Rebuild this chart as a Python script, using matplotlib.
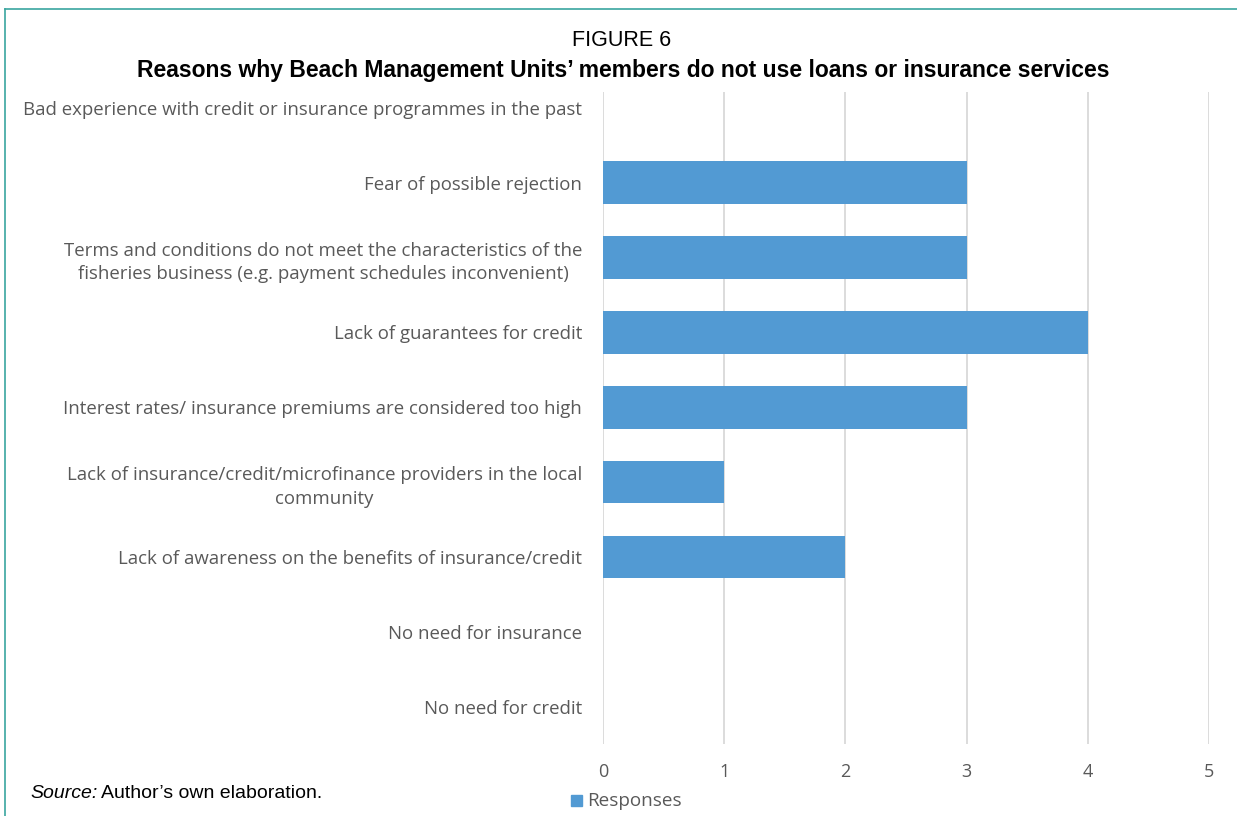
import matplotlib
matplotlib.use("Agg")
from matplotlib import pyplot as plt
from matplotlib.lines import Line2D
from matplotlib.patches import Rectangle

# data
reasons = [
    "Bad experience with credit or insurance programmes in the past",
    "Fear of possible rejection",
    "Terms and conditions do not meet the characteristics of the\nfisheries business (e.g. payment schedules inconvenient)",
    "Lack of guarantees for credit",
    "Interest rates/ insurance premiums are considered too high",
    "Lack of insurance/credit/microfinance providers in the local\ncommunity",
    "Lack of awareness on the benefits of insurance/credit",
    "No need for insurance",
    "No need for credit",
]
responses = [0, 3, 3, 4, 3, 1, 2, 0, 0]
xticks = [0, 1, 2, 3, 4, 5]

W, H = 1237, 816
bar_color = "#529AD3"
grid_color = "#D9D9D9"
label_color = "#595959"
label_font = ["Open Sans", "DejaVu Sans"]

fig = plt.figure(figsize=(W / 100, H / 100), dpi=100)
ax = fig.add_axes([603 / W, (H - 744) / H, (1209 - 603) / W, (744 - 92) / H])

pos = list(range(len(reasons)))
ax.barh(pos, responses, height=0.57, color=bar_color, zorder=3)
ax.set_xlim(0, 5)
ax.set_ylim(len(reasons) - 0.5, -0.213)
ax.set_xticks(xticks)
ax.set_xticklabels([str(t) for t in xticks], color=label_color,
                   fontsize=13, family=label_font)
ax.set_yticks(pos)
ax.set_yticklabels(reasons, color=label_color, fontsize=13.4,
                   family=label_font, multialignment="center",
                   linespacing=1.4)
ax.tick_params(length=0)
ax.tick_params(axis="x", pad=14)
ax.tick_params(axis="y", pad=15)
ax.grid(axis="x", color=grid_color, linewidth=1.3, zorder=0)
for s in ax.spines.values():
    s.set_visible(False)

# titles
fig.text(622 / W, 1 - 41 / H, "FIGURE 6", ha="center", va="center",
         fontsize=15.5, family="Liberation Sans")
fig.text(623 / W, 1 - 71 / H,
         "Reasons why Beach Management Units\u2019 members do not use loans or insurance services",
         ha="center", va="center", fontsize=16.5, fontweight="bold",
         family="Liberation Sans")

# legend
fig.patches.append(Rectangle((571 / W, 1 - 806 / H), 11 / W, 11 / H,
                             transform=fig.transFigure, color=bar_color))
fig.text(587 / W, 1 - 801 / H, "Responses", ha="left", va="center",
         fontsize=13.6, color=label_color, family=label_font)

# source note
fig.text(30 / W, 1 - 793 / H, "Source:", ha="left", va="center",
         fontsize=14, style="italic", family="Liberation Sans")
fig.text(101 / W, 1 - 793 / H, "Author\u2019s own elaboration.", ha="left",
         va="center", fontsize=14, family="Liberation Sans")

# teal frame (top and left only, the rest is cut off)
frame = "#3AA5A0"
fig.add_artist(Line2D([5 / W, 1], [1 - 9 / H, 1 - 9 / H], color=frame,
                      linewidth=1.2, transform=fig.transFigure))
fig.add_artist(Line2D([5 / W, 5 / W], [0, 1 - 9 / H], color=frame,
                      linewidth=1.2, transform=fig.transFigure))

fig.savefig("out.png", dpi=100)
